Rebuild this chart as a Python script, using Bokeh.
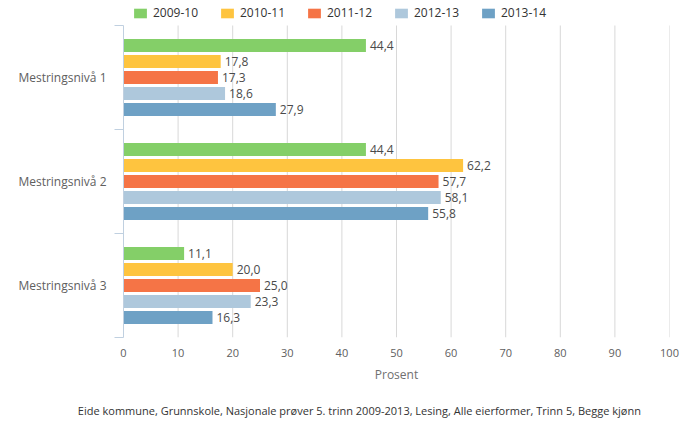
from bokeh.plotting import figure
from bokeh.models import (ColumnDataSource, Range1d, FixedTicker, Legend, LegendItem,
                          LabelSet, LinearAxis)
from bokeh.core.properties import value
from bokeh.embed import file_html
from bokeh.resources import INLINE

categories = ["Mestringsnivå 1", "Mestringsnivå 2", "Mestringsnivå 3"]
series_names = ["2009-10", "2010-11", "2011-12", "2012-13", "2013-14"]
v2009 = [44.4, 44.4, 11.1]
v2010 = [17.8, 62.2, 20.0]
v2011 = [17.3, 57.7, 25.0]
v2012 = [18.6, 58.1, 23.3]
v2013 = [27.9, 55.8, 16.3]
series_values = [v2009, v2010, v2011, v2012, v2013]
colors = ["#84cf68", "#fec43f", "#f57446", "#aec8dc", "#6ea1c5"]
x_ticks = list(range(0, 101, 10))
x_title = "Prosent"
footer = "Eide kommune, Grunnskole, Nasjonale prøver 5. trinn 2009-2013, Lesing, Alle eierformer, Trinn 5, Begge kjønn"

FONT = "Open Sans"
BAND_PX = 104            # pixel height of one category band
pitch = 16 / BAND_PX
bar_h = 13 / BAND_PX
top_pad = 25 / BAND_PX   # room above the bands for the legend
footer_pos = 43.2        # horizontal centre of the footer line (axis units)

ncat = len(categories)
p = figure(output_backend="svg", toolbar_location=None,
           frame_width=546, frame_height=BAND_PX * ncat + 25,
           min_border_left=123, min_border_right=24,
           min_border_top=0, min_border_bottom=94,
           x_range=Range1d(0, 100), y_range=Range1d(ncat, -top_pad),
           background_fill_color="white", border_fill_color="white")
p.outline_line_color = None
p.xgrid.visible = False
p.ygrid.visible = False

# vertical grid lines limited to the band area
p.segment(x0=x_ticks[1:], x1=x_ticks[1:], y0=[0] * (len(x_ticks) - 1),
          y1=[ncat] * (len(x_ticks) - 1), line_color="#d8d8d8", line_width=1)

n = len(series_names)
renderers = []
for j, (name, vals, col) in enumerate(zip(series_names, series_values, colors)):
    ys = [i + 0.5 + (j - (n - 1) / 2) * pitch for i in range(ncat)]
    src = ColumnDataSource(dict(y=ys, x=vals,
                                lab=[f"{v:.1f}".replace(".", ",") for v in vals]))
    r = p.hbar(y="y", right="x", left=0, height=bar_h, source=src,
               fill_color=col, line_color=None)
    renderers.append(r)
    p.add_layout(LabelSet(x="x", y="y", text="lab", source=src, x_offset=4,
                          text_baseline="middle", text_align="left",
                          text_font=value(FONT), text_font_size="12px",
                          text_color="#4a4a4a"))

# x axis
xa = p.xaxis[0]
xa.ticker = FixedTicker(ticks=x_ticks)
xa.axis_line_color = None
xa.major_tick_line_color = None
xa.minor_tick_line_color = None
xa.major_label_standoff = 5
xa.major_label_text_font = FONT
xa.major_label_text_font_size = "11px"
xa.major_label_text_color = "#606060"
xa.axis_label = x_title
xa.axis_label_text_font = FONT
xa.axis_label_text_font_size = "12px"
xa.axis_label_text_font_style = "normal"
xa.axis_label_text_color = "#707070"
xa.axis_label_standoff = 6

# footer line as an extra bottom axis with one labelled tick
fa = LinearAxis(ticker=FixedTicker(ticks=[footer_pos]),
                major_label_overrides={footer_pos: footer},
                axis_line_color=None, major_tick_line_color=None,
                minor_tick_line_color=None, major_label_standoff=11,
                major_label_text_font=FONT, major_label_text_font_size="11px",
                major_label_text_color="#333333")
p.add_layout(fa, "below")

# y axis: labels at band centres, tick marks at band boundaries
centers = [i + 0.5 for i in range(ncat)]
ya = p.yaxis[0]
ya.ticker = FixedTicker(ticks=centers, minor_ticks=list(range(ncat + 1)))
ya.major_label_overrides = {c: lab for c, lab in zip(centers, categories)}
ya.bounds = (0, ncat)
ya.axis_line_color = "#c0d0e0"
ya.major_tick_line_color = None
ya.major_tick_out = 0
ya.major_tick_in = 0
ya.minor_tick_line_color = "#c0d0e0"
ya.minor_tick_out = 9
ya.minor_tick_in = 0
ya.major_label_standoff = 8
ya.major_label_text_font = FONT
ya.major_label_text_font_size = "12px"
ya.major_label_text_color = "#606060"

legend = Legend(items=[LegendItem(label=nm, renderers=[r]) for nm, r in zip(series_names, renderers)],
                orientation="horizontal", location=(9, BAND_PX * ncat + 4),
                glyph_width=16, glyph_height=12, label_standoff=5, label_width=50,
                label_height=12, spacing=16, padding=0, margin=0,
                border_line_color=None, background_fill_alpha=0,
                label_text_font=FONT, label_text_font_size="12px",
                label_text_color="#333333")
p.add_layout(legend, "center")

open("out.html", "w").write(file_html(p, INLINE))
